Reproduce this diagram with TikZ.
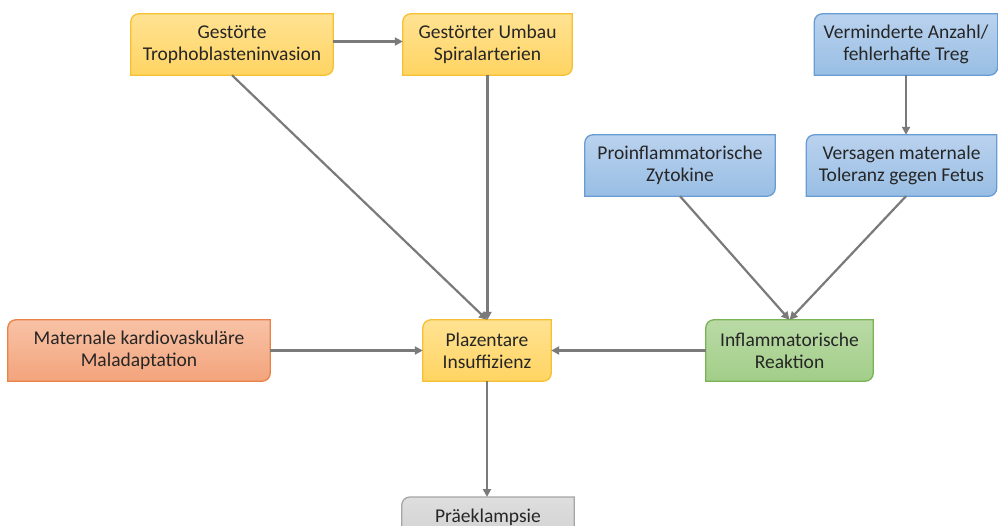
\documentclass[tikz,border=0pt]{standalone}
\usepackage{fontspec}
\setmainfont{Carlito}
\usetikzlibrary{positioning,backgrounds,arrows.meta}
\definecolor{ArrowGray}{RGB}{122,122,122}
\definecolor{yellowtop}{RGB}{255,226,146}
\definecolor{yellowbot}{RGB}{255,212,98}
\definecolor{yellowline}{RGB}{246,192,52}
\definecolor{bluetop}{RGB}{186,210,238}
\definecolor{bluebot}{RGB}{152,190,228}
\definecolor{blueline}{RGB}{104,156,212}
\definecolor{redtop}{RGB}{248,194,166}
\definecolor{redbot}{RGB}{243,164,124}
\definecolor{redline}{RGB}{232,130,72}
\definecolor{greentop}{RGB}{186,218,166}
\definecolor{greenbot}{RGB}{162,206,136}
\definecolor{greenline}{RGB}{122,178,86}
\definecolor{graytop}{RGB}{222,222,222}
\definecolor{graybot}{RGB}{204,204,204}
\definecolor{grayline}{RGB}{165,165,165}

\begin{document}
\begin{tikzpicture}[
    x=1pt, y=-1pt,
    every node/.style={font=\fontsize{19.5}{22}\selectfont, text=black!85, align=center},
    box/.style={minimum height=61pt, inner sep=0pt},
    flow/.style={-{Triangle[length=8pt,width=8pt]}, line width=2.2pt, ArrowGray}
]
    \useasboundingbox (0,0) rectangle (998,526);
    % top row
    \node[box, minimum width=202pt] (troph) at (232,44.5) {Gestörte\\Trophoblasteninvasion};
    \node[box, minimum width=169pt] (umbau) at (487.5,44.5) {Gestörter Umbau\\Spiralarterien};
    \node[box, minimum width=183pt] (treg) at (906,44.5) {Verminderte Anzahl/\\fehlerhafte Treg};
    % immune branch
    \node[box, minimum width=190pt] (zyto) at (680,165.5) {Proinflammatorische\\Zytokine};
    \node[box, minimum width=190pt] (toleranz) at (901.5,165.5) {Versagen maternale\\Toleranz gegen Fetus};
    % middle row
    \node[box, minimum width=262pt] (kardio) at (139,350.5) {Maternale kardiovaskuläre\\Maladaptation};
    \node[box, minimum width=128pt] (plazenta) at (487,350.5) {Plazentare\\Insuffizienz};
    \node[box, minimum width=167pt] (inflamm) at (789.5,350.5) {Inflammatorische\\Reaktion};
    % outcome (cut off at the bottom edge)
    \node[box, minimum width=172pt, anchor=north] (prae) at (488,497) {\raisebox{2pt}{Präeklampsie}\\\mbox{}};

    \begin{scope}[on background layer]
        \foreach \n/\c in {troph/yellow, umbau/yellow, plazenta/yellow, treg/blue, zyto/blue,
                           toleranz/blue, kardio/red, inflamm/green, prae/gray}
            \path[draw=\c line, line width=1.3pt, top color=\c top, bottom color=\c bot]
                (\n.west) [rounded corners=8pt] -- (\n.north west) -- (\n.north)
                [sharp corners] -- (\n.north east) -- (\n.east)
                [rounded corners=8pt] -- (\n.south east) -- (\n.south)
                [sharp corners] -- (\n.south west) -- cycle;
    \end{scope}

    \draw[flow] ([yshift=3pt]troph.east) -- ([yshift=3pt]umbau.west);
    \draw[flow] (troph.south) -- (plazenta.north);
    \draw[flow] (umbau.south) -- (umbau.south |- plazenta.north);
    \draw[flow] (treg.south) -- (treg.south |- toleranz.north);
    \draw[flow] (zyto.south) -- (inflamm.north);
    \draw[flow] (treg.south |- toleranz.south) -- (inflamm.north);
    \draw[flow] (kardio.east) -- (plazenta.west);
    \draw[flow] (inflamm.west) -- (plazenta.east);
    \draw[flow] (plazenta.south) -- (plazenta.south |- prae.north);
\end{tikzpicture}
\end{document}
